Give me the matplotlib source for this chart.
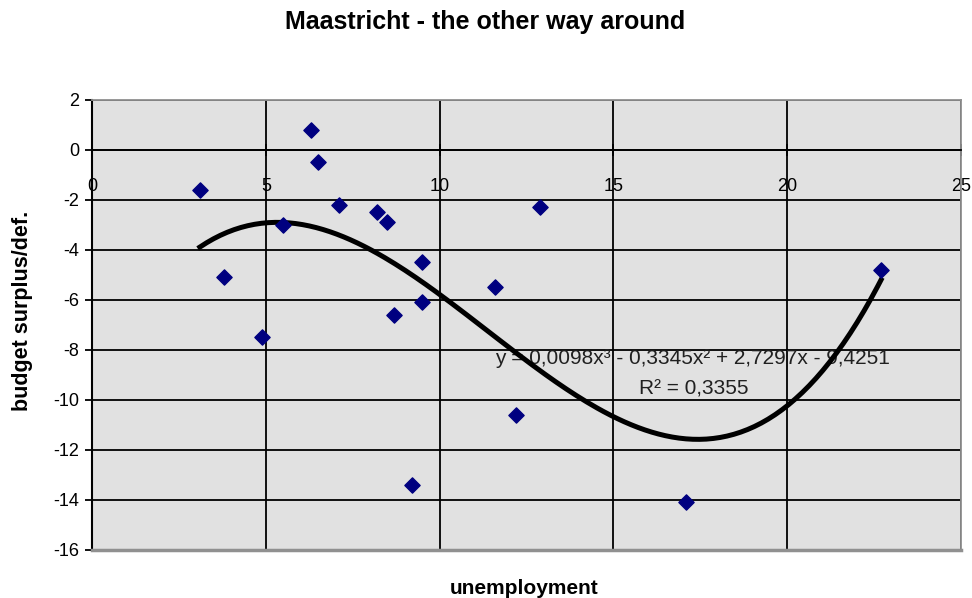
import numpy as np
import matplotlib.pyplot as plt

# unemployment vs budget surplus/deficit
unemployment = [3.1, 3.8, 4.9, 5.5, 6.3, 6.5, 7.1, 8.2, 8.5, 8.7, 9.2, 9.5, 9.5, 11.6, 12.2, 12.9, 17.1, 22.7]
budget = [-1.6, -5.1, -7.5, -3.0, 0.8, -0.5, -2.2, -2.5, -2.9, -6.6, -13.4, -4.5, -6.1, -5.5, -10.6, -2.3, -14.1, -4.8]

# polynomial trendline coefficients (from the chart label), highest power first
trend_coef = [0.0098, -0.3345, 2.7297, -9.4251]
r_squared = 0.3355

x_ticks = [0, 5, 10, 15, 20, 25]
y_ticks = [-16, -14, -12, -10, -8, -6, -4, -2, 0, 2]

plt.rcParams['font.family'] = ['Liberation Sans', 'DejaVu Sans']
plt.rcParams['axes.unicode_minus'] = False

fig = plt.figure(figsize=(9.72, 5.98), dpi=100)
ax = fig.add_axes([0.0947, 0.0803, 0.8940, 0.7525])
ax.set_facecolor('#E1E1E1')

ax.set_xlim(0, 25)
ax.set_ylim(-16, 2)
ax.set_xticks(x_ticks)
ax.set_yticks(y_ticks)
ax.grid(True, color='black', linewidth=1.3)
ax.set_axisbelow(True)

# x axis crosses at y = 0, like Excel does
ax.spines['bottom'].set_position(('data', 0))
ax.spines['bottom'].set_color('black')
ax.spines['bottom'].set_linewidth(1.3)
ax.spines['left'].set_color('black')
ax.spines['left'].set_linewidth(1.5)
for s in ['top', 'right']:
    ax.spines[s].set_color('#909090')
    ax.spines[s].set_linewidth(1.3)
ax.axhline(-16, color='#909090', linewidth=2.5, zorder=5, clip_on=False)

ax.tick_params(axis='x', direction='inout', length=8, width=1.3, pad=16, labelsize=13)
ax.tick_params(axis='y', direction='out', length=5, width=1.3, pad=4, labelsize=13)

# trendline
xs = np.linspace(min(unemployment), max(unemployment), 200)
ax.plot(xs, np.polyval(trend_coef, xs), color='black', linewidth=3.6, zorder=4)

ax.scatter(unemployment, budget, marker='D', s=60, color='#000080', zorder=5)

eq = 'y = {:.4f}x³ - {:.4f}x² + {:.4f}x - {:.4f}'.format(
    trend_coef[0], -trend_coef[1], trend_coef[2], -trend_coef[3]).replace('.', ',')
ax.text(17.26, -8.33, eq, ha='center', va='center', fontsize=15, color='#202020', zorder=3)
ax.text(17.32, -9.57, 'R² = {:.4f}'.format(r_squared).replace('.', ','),
        ha='center', va='center', fontsize=15, color='#202020', zorder=3)

fig.text(0.499, 0.963, 'Maastricht - the other way around', ha='center', va='center',
         fontsize=18, fontweight='bold')
fig.text(0.539, 0.016, 'unemployment', ha='center', va='center', fontsize=15, fontweight='bold')
fig.text(0.023, 0.48, 'budget surplus/def.', ha='center', va='center', rotation=90,
         fontsize=15.5, fontweight='bold')

plt.savefig('out.png', dpi=100)
